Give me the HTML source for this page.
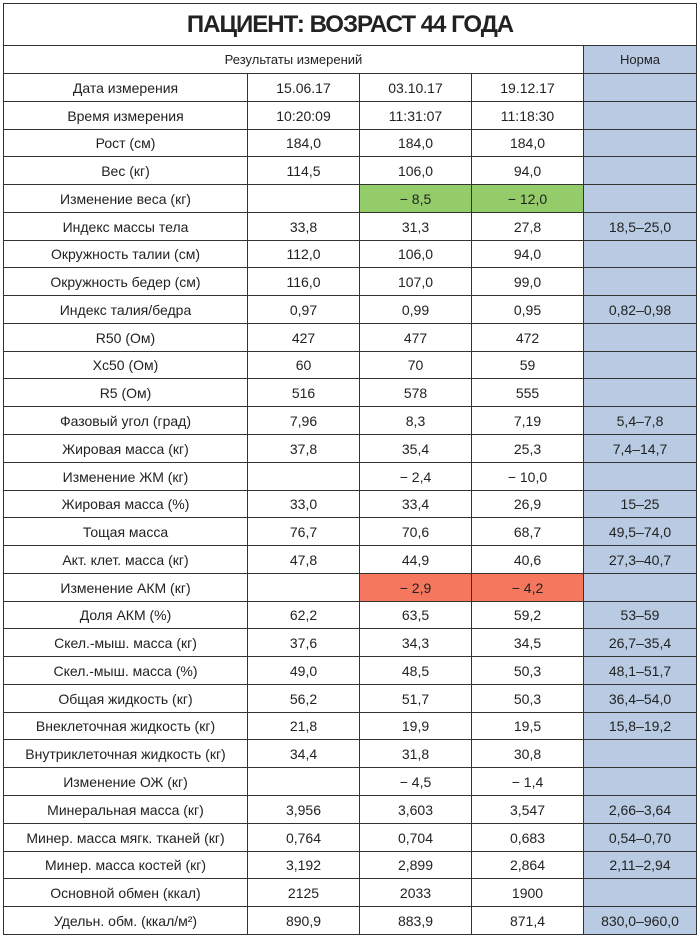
<!DOCTYPE html>
<html><head><meta charset="utf-8"><style>
body{margin:0;width:700px;height:940px;background:#fff;position:relative;font-family:"Liberation Sans",sans-serif;color:#222;overflow:hidden}
.c{position:absolute;box-sizing:border-box;display:flex;align-items:center;justify-content:center;font-size:14px;border-right:1px solid #333;border-bottom:1px solid #333}
</style></head><body>
<div id="t"></div>
<script>
var rows=[
["Дата измерения","15.06.17","03.10.17","19.12.17",""],
["Время измерения","10:20:09","11:31:07","11:18:30",""],
["Рост (см)","184,0","184,0","184,0",""],
["Вес (кг)","114,5","106,0","94,0",""],
["Изменение веса (кг)","","− 8,5","− 12,0","","g"],
["Индекс массы тела","33,8","31,3","27,8","18,5–25,0"],
["Окружность талии (см)","112,0","106,0","94,0",""],
["Окружность бедер (см)","116,0","107,0","99,0",""],
["Индекс талия/бедра","0,97","0,99","0,95","0,82–0,98"],
["R50 (Ом)","427","477","472",""],
["Xc50 (Ом)","60","70","59",""],
["R5 (Ом)","516","578","555",""],
["Фазовый угол (град)","7,96","8,3","7,19","5,4–7,8"],
["Жировая масса (кг)","37,8","35,4","25,3","7,4–14,7"],
["Изменение ЖМ (кг)","","− 2,4","− 10,0",""],
["Жировая масса (%)","33,0","33,4","26,9","15–25"],
["Тощая масса","76,7","70,6","68,7","49,5–74,0"],
["Акт. клет. масса (кг)","47,8","44,9","40,6","27,3–40,7"],
["Изменение АКМ (кг)","","− 2,9","− 4,2","","r"],
["Доля АКМ (%)","62,2","63,5","59,2","53–59"],
["Скел.-мыш. масса (кг)","37,6","34,3","34,5","26,7–35,4"],
["Скел.-мыш. масса (%)","49,0","48,5","50,3","48,1–51,7"],
["Общая жидкость (кг)","56,2","51,7","50,3","36,4–54,0"],
["Внеклеточная жидкость (кг)","21,8","19,9","19,5","15,8–19,2"],
["Внутриклеточная жидкость (кг)","34,4","31,8","30,8",""],
["Изменение ОЖ (кг)","","− 4,5","− 1,4",""],
["Минеральная масса (кг)","3,956","3,603","3,547","2,66–3,64"],
["Минер. масса мягк. тканей (кг)","0,764","0,704","0,683","0,54–0,70"],
["Минер. масса костей (кг)","3,192","2,899","2,864","2,11–2,94"],
["Основной обмен (ккал)","2125","2033","1900",""],
["Удельн. обм. (ккал/м²)","890,9","883,9","871,4","830,0–960,0"]];
var xs=[3,248,360,472,584,697],h="";
function cell(x,y,w,hh,txt,bg,st){h+='<div class="c" style="left:'+x+'px;top:'+y+'px;width:'+w+'px;height:'+hh+'px;background:'+bg+';'+(st||'')+'">'+txt+'</div>';}
cell(3,3,694,43,"ПАЦИЕНТ: ВОЗРАСТ 44 ГОДА","#fff","font-size:24px;font-weight:bold;border-left:1px solid #333;border-top:1px solid #333;letter-spacing:-1px");
cell(3,46,581,28,"Результаты измерений","#fff","font-size:13px;border-left:1px solid #333");
cell(584,46,113,28,"Норма","#b9cbe3","font-size:13px");
var y0=74,rh=27.77;
rows.forEach(function(r,i){
 var y=Math.round(y0+i*rh),y2=Math.round(y0+(i+1)*rh);
 for(var j=0;j<5;j++){
  var bg=j==4?"#b9cbe3":"#fff";
  if(r[5]&&(j==2||j==3))bg=r[5]=="g"?"#93cc68":"#f4775e";
  cell(xs[j],y,xs[j+1]-xs[j],y2-y,r[j],bg,j==0?"border-left:1px solid #333":"");
 }
});
document.getElementById("t").outerHTML=h;
</script>
</body></html>
